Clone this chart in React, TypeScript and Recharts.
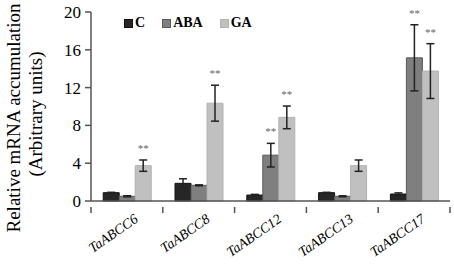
import React from "react";
import {
  BarChart,
  Bar,
  XAxis,
  YAxis,
  ErrorBar,
  LabelList,
} from "recharts";

const categories = ["TaABCC6", "TaABCC8", "TaABCC12", "TaABCC13", "TaABCC17"];
const cValues = [0.88, 1.87, 0.63, 0.88, 0.74];
const cErrors = [0.04, 0.48, 0.07, 0.04, 0.12];
const abaValues = [0.5, 1.66, 4.85, 0.5, 15.15];
const abaErrors = [0.06, 0.05, 1.25, 0.05, 3.5];
const gaValues = [3.74, 10.35, 8.85, 3.74, 13.75];
const gaErrors = [0.6, 1.9, 1.2, 0.6, 2.9];
const abaSig = ["", "", "**", "", "**"];
const gaSig = ["**", "**", "**", "", "**"];
const yTicks = [0, 4, 8, 12, 16, 20];

const series = [
  { key: "C", fill: "#262626", stroke: "#111111" },
  { key: "ABA", fill: "#7f7f7f", stroke: "#5a5a5a" },
  { key: "GA", fill: "#c0c0c0", stroke: "#b2b2b2" },
];

const data = categories.map((name, i) => ({
  name,
  C: cValues[i],
  cErr: cErrors[i],
  ABA: abaValues[i],
  abaErr: abaErrors[i],
  abaSig: abaSig[i],
  GA: gaValues[i],
  gaErr: gaErrors[i],
  gaSig: gaSig[i],
}));

const serif = "Liberation Serif";

function starLabel(errs: number[], vals: number[]) {
  return (props: any) => {
    const { x, y, width, height, value, index } = props;
    if (!value) return null;
    const v = vals[index];
    const pxPerUnit = height / v;
    const top = y + height - (v + errs[index]) * pxPerUnit;
    return (
      <text
        x={x + width / 2}
        y={top - 8}
        textAnchor="middle"
        fontSize={11}
        fill="#666"
        fontFamily={serif}
      >
        {value}
      </text>
    );
  };
}

function CatTick(props: any) {
  const { x, y, payload, index } = props;
  const half = payload.offset || 0;
  const axisY = y - 2;
  return (
    <g>
      <line x1={x - half} x2={x - half} y1={axisY} y2={axisY + 6} stroke="#555" strokeWidth={1.5} />
      {index === categories.length - 1 && (
        <line x1={x + half} x2={x + half} y1={axisY} y2={axisY + 6} stroke="#555" strokeWidth={1.5} />
      )}
      <text
        x={x + 12}
        y={y + 12}
        textAnchor="end"
        transform={`rotate(-35, ${x + 12}, ${y + 12})`}
        fontSize={14}
        fontStyle="italic"
        fill="#000"
        fontFamily={serif}
      >
        {payload.value}
      </text>
    </g>
  );
}

export default function App() {
  return (
    <div style={{ position: "fixed", left: 0, top: 0, width: 454, height: 272, background: "#fff" }}>
      <BarChart
        width={454}
        height={272}
        data={data}
        margin={{ top: 12, right: 4, left: 0, bottom: 0 }}
        barCategoryGap="17%"
        barGap={0}
      >
        <XAxis
          dataKey="name"
          height={71}
          interval={0}
          axisLine={{ stroke: "#555", strokeWidth: 1.5 }}
          tickLine={false}
          tickMargin={2}
          tick={<CatTick />}
        />
        <YAxis
          domain={[0, 20]}
          ticks={yTicks}
          width={91}
          axisLine={{ stroke: "#555", strokeWidth: 1.5 }}
          tickLine={{ stroke: "#555", strokeWidth: 1.5 }}
          tickSize={6}
          tickMargin={4}
          tick={{ fontSize: 17, fill: "#000", fontFamily: serif }}
          label={{
            content: () => (
              <text
                transform="rotate(-90)"
                textAnchor="middle"
                fill="#000"
                fontFamily={serif}
              >
                <tspan x={-118} y={20} fontSize={19}>Relative mRNA accumulation</tspan>
                <tspan x={-114} y={42} fontSize={19}>(Arbitrary units)</tspan>
              </text>
            ),
          }}
        />
        <Bar dataKey="C" fill={series[0].fill} stroke={series[0].stroke} isAnimationActive={false}>
          <ErrorBar dataKey="cErr" width={4} stroke="#222" strokeWidth={1.5} />
        </Bar>
        <Bar dataKey="ABA" fill={series[1].fill} stroke={series[1].stroke} isAnimationActive={false}>
          <ErrorBar dataKey="abaErr" width={4} stroke="#222" strokeWidth={1.5} />
          <LabelList dataKey="abaSig" content={starLabel(abaErrors, abaValues)} />
        </Bar>
        <Bar dataKey="GA" fill={series[2].fill} stroke={series[2].stroke} isAnimationActive={false}>
          <ErrorBar dataKey="gaErr" width={4} stroke="#222" strokeWidth={1.5} />
          <LabelList dataKey="gaSig" content={starLabel(gaErrors, gaValues)} />
        </Bar>
      </BarChart>
      <div
        style={{
          position: "absolute",
          left: 124,
          top: 14,
          display: "flex",
          gap: 17,
          fontFamily: serif,
          fontWeight: "bold",
          fontSize: 14,
          lineHeight: "18px",
        }}
      >
        {series.map((s) => (
          <div key={s.key} style={{ display: "flex", alignItems: "center" }}>
            <span
              style={{
                display: "inline-block",
                width: 7,
                height: 7,
                background: s.fill,
                border: `1px solid ${s.stroke}`,
                marginRight: 2,
              }}
            />
            {s.key}
          </div>
        ))}
      </div>
    </div>
  );
}
